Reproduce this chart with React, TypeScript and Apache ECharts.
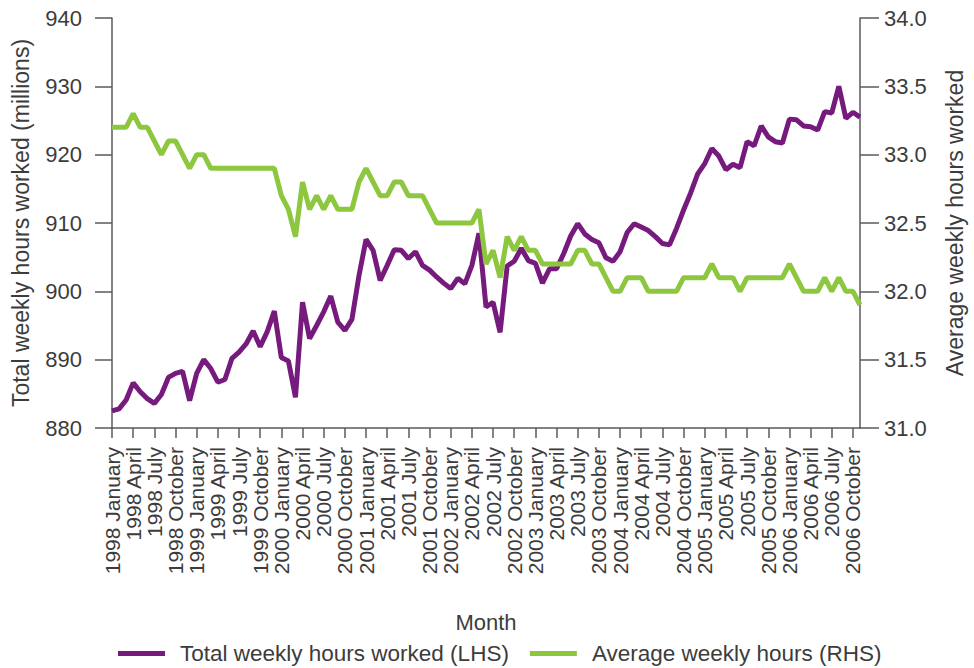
import React, { useEffect, useRef } from "react";
import * as echarts from "echarts";

const years = [1998, 1999, 2000, 2001, 2002, 2003, 2004, 2005, 2006];
const monthNames = [
  "January", "February", "March", "April", "May", "June",
  "July", "August", "September", "October", "November", "December",
];
// 1998 January .. 2006 November (107 months)
const categories: string[] = [];
years.forEach((y) =>
  monthNames.forEach((m) => {
    if (categories.length < 107) categories.push(`${y} ${m}`);
  })
);

const totalHours = [
  882.5, 882.8, 884.1, 886.6, 885.3, 884.3, 883.6, 884.9, 887.4, 888.0, 888.3, 884.0,
  888.0, 890.0, 888.7, 886.7, 887.1, 890.2, 891.1, 892.3, 894.2, 891.9, 894.1, 897.1,
  890.3, 889.8, 884.5, 898.4, 893.1, 895.0, 897.0, 899.3, 895.5, 894.3, 895.9, 902.3,
  907.6, 906.0, 901.6, 903.8, 906.1, 906.0, 904.8, 905.8, 903.8, 903.1, 902.1, 901.2,
  900.4, 901.9, 901.1, 903.8, 908.5, 897.7, 898.4, 894.0, 903.7, 904.4, 906.3, 904.5,
  904.1, 901.2, 903.3, 903.3, 905.5, 908.1, 909.9, 908.4, 907.6, 907.1, 904.9, 904.4,
  905.8, 908.6, 909.9, 909.4, 908.9, 908.0, 907.0, 906.8, 909.2, 911.9, 914.4, 917.2,
  918.7, 920.9, 919.8, 917.8, 918.6, 918.1, 921.9, 921.3, 924.2, 922.6, 921.9, 921.7,
  925.2, 925.1, 924.2, 924.1, 923.6, 926.3, 926.1, 930.0, 925.3, 926.2, 925.5,
];

const averageHours = [
  33.2, 33.2, 33.2, 33.3, 33.2, 33.2, 33.1, 33.0, 33.1, 33.1, 33.0, 32.9,
  33.0, 33.0, 32.9, 32.9, 32.9, 32.9, 32.9, 32.9, 32.9, 32.9, 32.9, 32.9,
  32.7, 32.6, 32.4, 32.8, 32.6, 32.7, 32.6, 32.7, 32.6, 32.6, 32.6, 32.8,
  32.9, 32.8, 32.7, 32.7, 32.8, 32.8, 32.7, 32.7, 32.7, 32.6, 32.5, 32.5,
  32.5, 32.5, 32.5, 32.5, 32.6, 32.2, 32.3, 32.1, 32.4, 32.3, 32.4, 32.3,
  32.3, 32.2, 32.2, 32.2, 32.2, 32.2, 32.3, 32.3, 32.2, 32.2, 32.1, 32.0,
  32.0, 32.1, 32.1, 32.1, 32.0, 32.0, 32.0, 32.0, 32.0, 32.1, 32.1, 32.1,
  32.1, 32.2, 32.1, 32.1, 32.1, 32.0, 32.1, 32.1, 32.1, 32.1, 32.1, 32.1,
  32.2, 32.1, 32.0, 32.0, 32.0, 32.1, 32.0, 32.1, 32.0, 32.0, 31.9,
];

const leftTicks = { min: 880, max: 940, interval: 10 };
const rightTicks = { min: 31, max: 34, interval: 0.5 };

const PURPLE = "#761b7d";
const GREEN = "#8dc63f";
const FONT = "Liberation Sans";
const TEXT = "#3c3c3c";
const AXIS = "#5a5a5a";

export default function App() {
  const ref = useRef<HTMLDivElement>(null);
  useEffect(() => {
    document.body.style.margin = "0";
    const chart = echarts.init(ref.current!, undefined, { renderer: "svg" });
    chart.setOption({
      animation: false,
      backgroundColor: "#ffffff",
      textStyle: { fontFamily: FONT, color: TEXT },
      grid: { left: 112, right: 112, top: 18, bottom: 240, containLabel: false },
      legend: {
        left: 113,
        top: 637,
        itemWidth: 47,
        itemHeight: 5,
        itemGap: 21,
        icon: "rect",
        textStyle: { fontFamily: FONT, fontSize: 22.5, color: TEXT, padding: [0, 0, 0, 10] },
        data: ["Total weekly hours worked (LHS)", "Average weekly hours (RHS)"],
      },
      xAxis: {
        type: "category",
        data: categories,
        boundaryGap: false,
        name: "Month",
        nameLocation: "middle",
        nameGap: 183,
        nameTextStyle: { fontFamily: FONT, fontSize: 22, color: TEXT },
        axisLine: { lineStyle: { color: AXIS, width: 1.5 } },
        axisTick: { show: true, interval: 2, length: 10, lineStyle: { color: AXIS, width: 1.5 } },
        axisLabel: {
          interval: 2,
          rotate: 90,
          margin: 19,
          fontFamily: FONT,
          fontSize: 21,
          color: TEXT,
        },
        splitLine: { show: false },
      },
      yAxis: [
        {
          type: "value",
          position: "left",
          ...leftTicks,
          name: "Total weekly hours worked (millions)",
          nameLocation: "middle",
          nameGap: 80,
          nameTextStyle: { fontFamily: FONT, fontSize: 23, color: TEXT },
          axisLine: { show: true, lineStyle: { color: AXIS, width: 1.5 } },
          axisTick: { show: true, length: 17, lineStyle: { color: AXIS, width: 1.5 } },
          axisLabel: { margin: 30, fontFamily: FONT, fontSize: 22, color: TEXT },
          splitLine: { show: false },
        },
        {
          type: "value",
          position: "right",
          ...rightTicks,
          name: "Average weekly hours worked",
          nameLocation: "middle",
          nameGap: 83,
          nameRotate: 90,
          nameTextStyle: { fontFamily: FONT, fontSize: 23, color: TEXT },
          axisLine: { show: true, lineStyle: { color: AXIS, width: 1.5 } },
          axisTick: { show: true, length: 19, lineStyle: { color: AXIS, width: 1.5 } },
          axisLabel: {
            margin: 24,
            fontFamily: FONT,
            fontSize: 22,
            color: TEXT,
            formatter: (v: number) => v.toFixed(1),
          },
          splitLine: { show: false },
        },
      ],
      series: [
        {
          name: "Total weekly hours worked (LHS)",
          type: "line",
          yAxisIndex: 0,
          data: totalHours,
          showSymbol: false,
          symbol: "none",
          lineStyle: { color: PURPLE, width: 5 },
          itemStyle: { color: PURPLE },
        },
        {
          name: "Average weekly hours (RHS)",
          type: "line",
          yAxisIndex: 1,
          data: averageHours,
          showSymbol: false,
          symbol: "none",
          lineStyle: { color: GREEN, width: 5 },
          itemStyle: { color: GREEN },
        },
      ],
    });
    return () => chart.dispose();
  }, []);
  return (
    <div
      ref={ref}
      style={{ position: "absolute", left: 0, top: 0, width: 974, height: 668 }}
    />
  );
}
